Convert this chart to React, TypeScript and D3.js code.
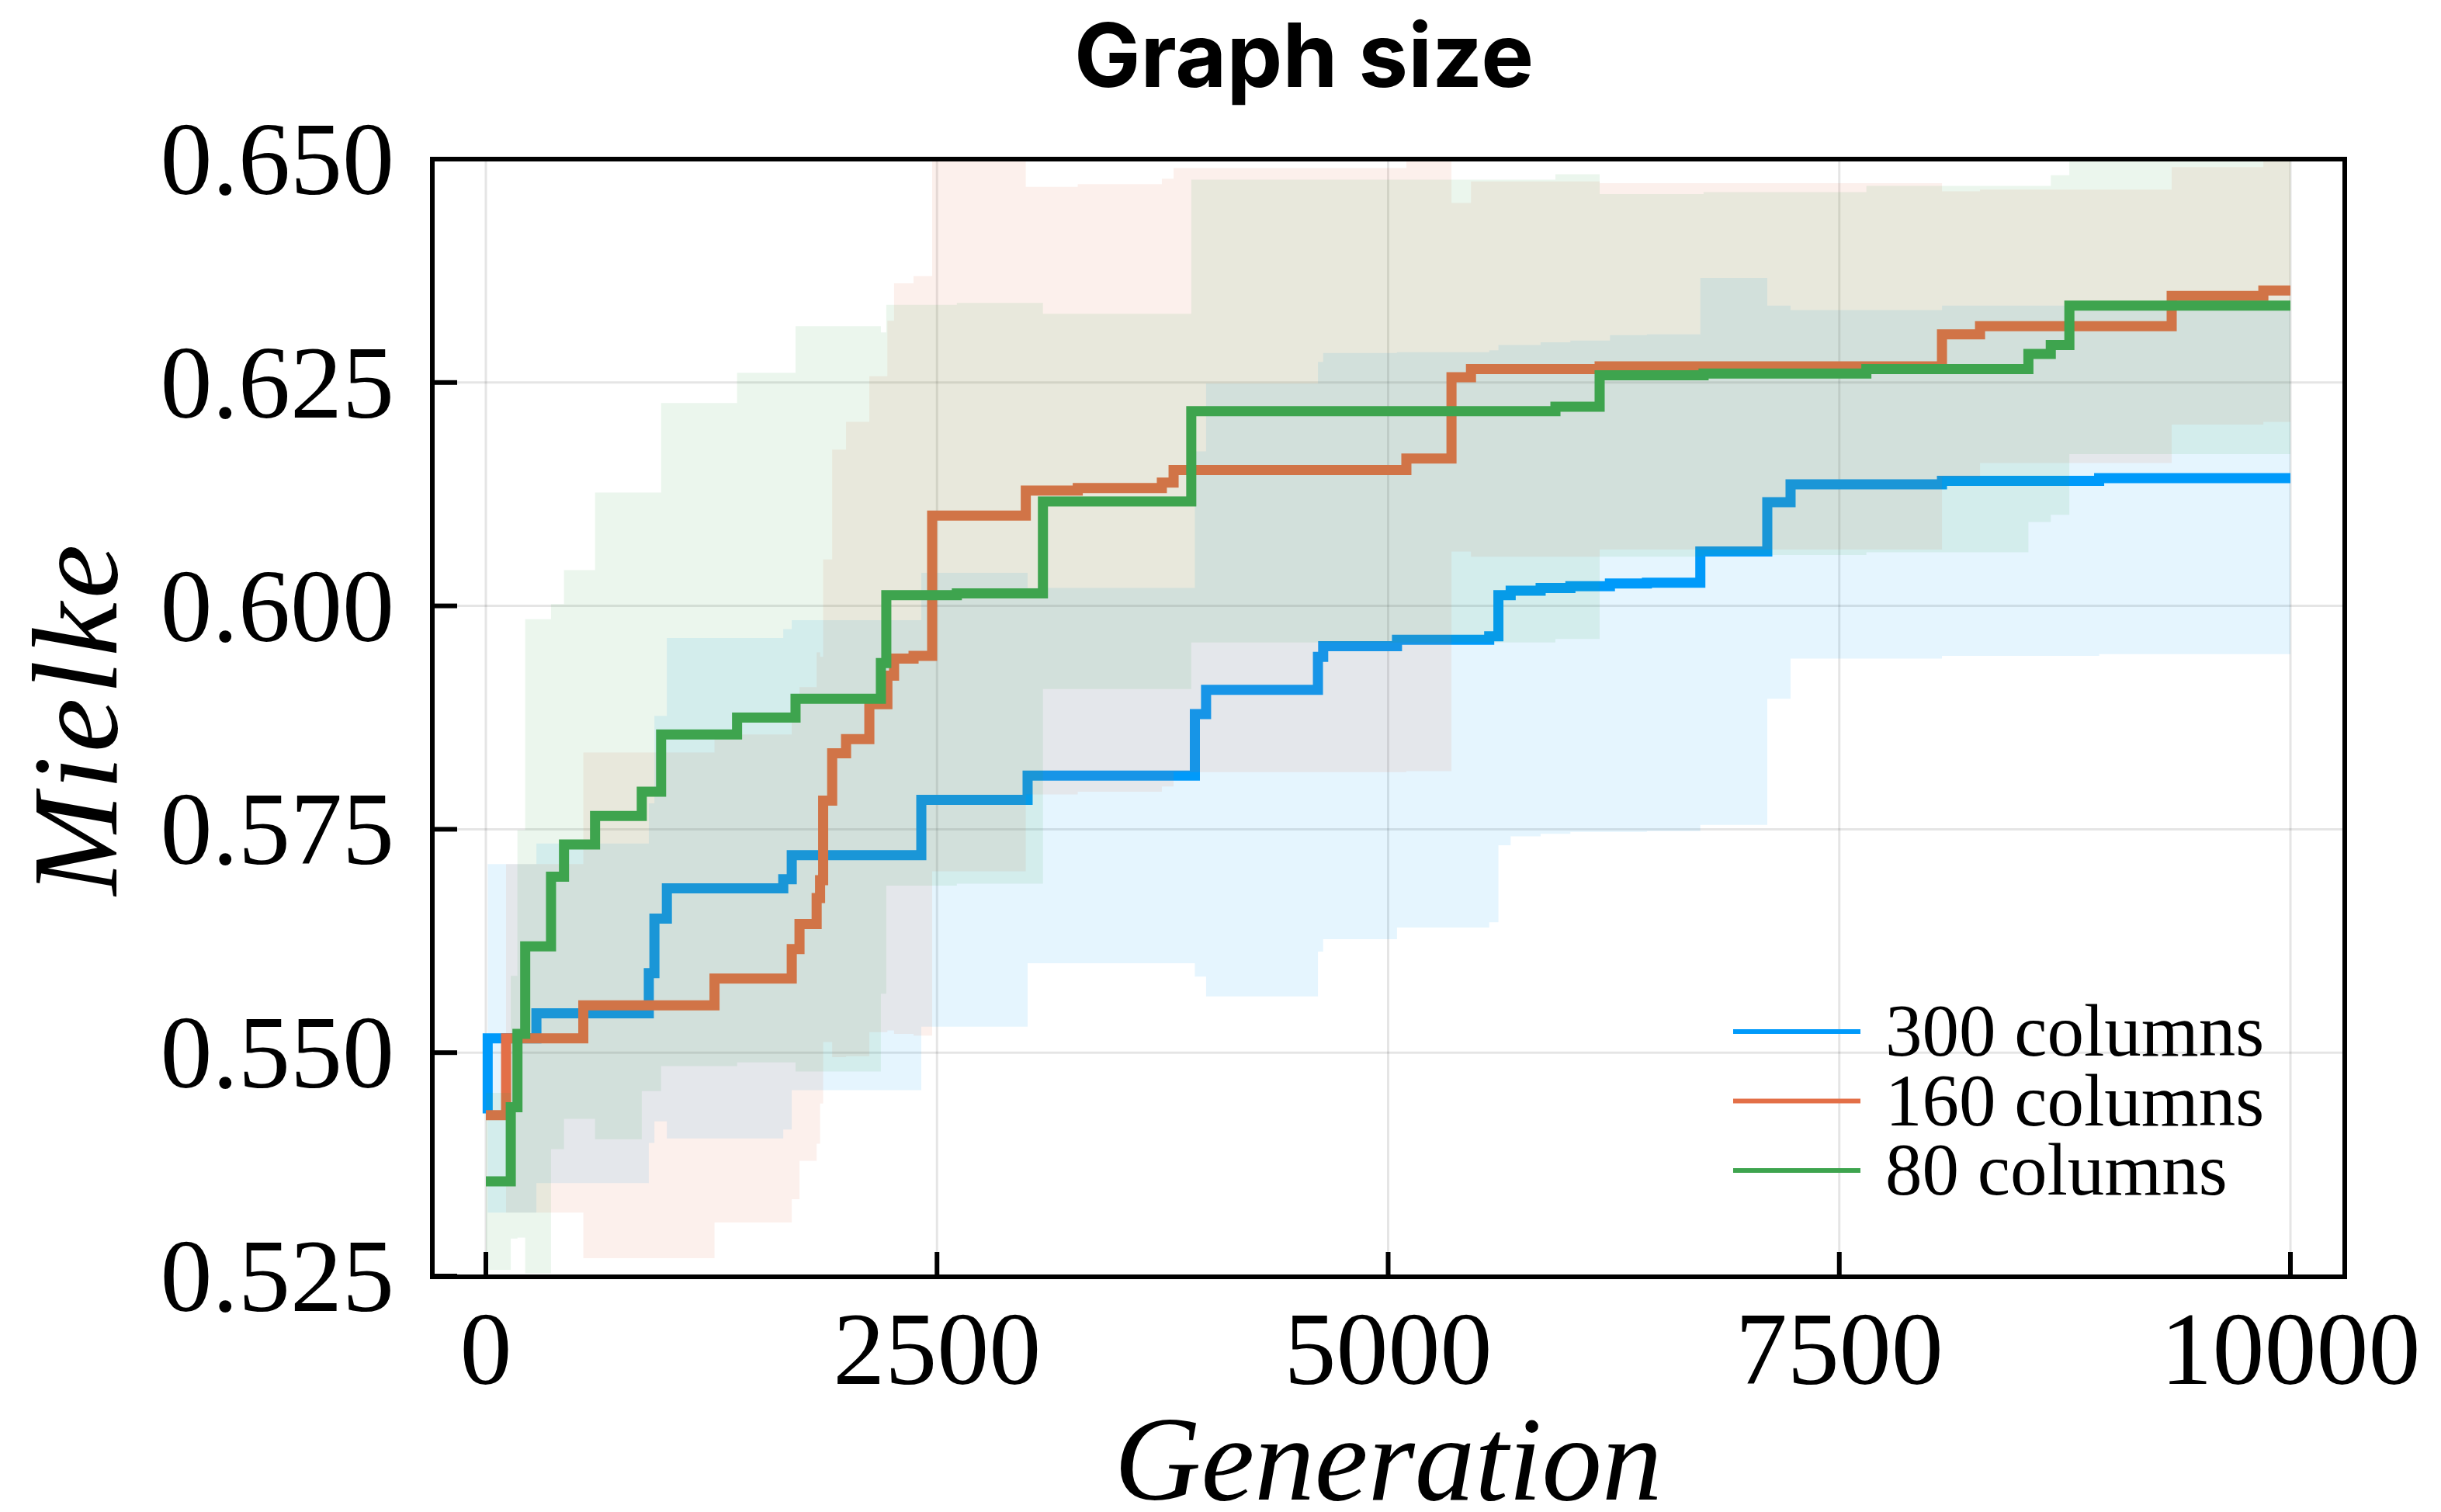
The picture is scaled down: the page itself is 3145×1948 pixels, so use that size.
import React from "react";
import * as d3 from "d3";

const W = 3145;
const H = 1948;

const TITLE = "Graph size";
const X_LABEL = "Generation";
const Y_LABEL = "Mielke";
const X_TICKS = [0, 2500, 5000, 7500, 10000];
const Y_TICKS = [0.525, 0.55, 0.575, 0.6, 0.625, 0.65];

const SERIES_LABELS = ["300 columns", "160 columns", "80 columns"];
const SERIES_COLORS = ["#009AFA", "#E36F47", "#3EA44E"];

// 300 columns
const gen300 = [0, 10, 280, 903, 934, 1003, 1648, 1695, 2413, 3002, 3929, 3991, 4611, 4640, 5049, 5560, 5611, 5679, 5845, 6010, 6229, 6434, 6730, 7101, 7230, 8069, 8940, 10000];
const mean300 = [0.5432, 0.5516, 0.5544, 0.5589, 0.565, 0.5684, 0.5694, 0.5721, 0.5783, 0.581, 0.5879, 0.5906, 0.5943, 0.5955, 0.5962, 0.5966, 0.6012, 0.6017, 0.602, 0.6022, 0.6025, 0.6026, 0.6061, 0.6116, 0.6136, 0.614, 0.6143, 0.6143];
const std300 = [0, 0.0195, 0.019, 0.019, 0.0227, 0.028, 0.028, 0.0263, 0.0254, 0.021, 0.0294, 0.0343, 0.033, 0.0328, 0.0322, 0.032, 0.028, 0.0275, 0.0275, 0.0275, 0.0278, 0.0278, 0.0306, 0.022, 0.0195, 0.0196, 0.0197, 0.0197];

// 160 columns
const gen160 = [0, 112, 540, 1267, 1695, 1738, 1833, 1852, 1869, 1919, 1996, 2125, 2225, 2262, 2370, 2473, 2992, 3280, 3746, 3811, 5101, 5351, 5459, 6172, 8069, 8280, 9342, 9850, 10000];
const mean160 = [0.543, 0.5516, 0.5553, 0.5583, 0.5616, 0.5644, 0.5673, 0.5693, 0.5782, 0.5835, 0.5851, 0.589, 0.5922, 0.5941, 0.5944, 0.6101, 0.6129, 0.6132, 0.6138, 0.6152, 0.6165, 0.6256, 0.6265, 0.6268, 0.6304, 0.6313, 0.6347, 0.6353, 0.6353];
const std160 = [0, 0.0195, 0.0283, 0.0273, 0.028, 0.0265, 0.0275, 0.025, 0.027, 0.034, 0.0355, 0.0367, 0.0397, 0.042, 0.0425, 0.0398, 0.034, 0.034, 0.034, 0.0338, 0.035, 0.0195, 0.021, 0.0205, 0.016, 0.0153, 0.0144, 0.0147, 0.0147];

// 80 columns
const gen80 = [0, 138, 175, 218, 361, 433, 605, 864, 971, 1392, 1716, 2189, 2219, 2610, 3087, 3909, 5927, 6172, 6748, 7650, 8548, 8672, 8775, 10000];
const mean80 = [0.5356, 0.5439, 0.5521, 0.5619, 0.5697, 0.5733, 0.5765, 0.5792, 0.5856, 0.5875, 0.5896, 0.5936, 0.6012, 0.6014, 0.6117, 0.6218, 0.6223, 0.6258, 0.626, 0.6265, 0.6282, 0.6292, 0.6336, 0.6336];
const std80 = [0.0099, 0.0147, 0.0228, 0.0366, 0.0305, 0.0307, 0.0362, 0.0335, 0.0371, 0.0386, 0.0417, 0.037, 0.0325, 0.0325, 0.021, 0.0259, 0.026, 0.0203, 0.0203, 0.0205, 0.0188, 0.019, 0.0166, 0.0166];

const GENS = [gen300, gen160, gen80];
const MEANS = [mean300, mean160, mean80];
const STDS = [std300, std160, std80];

export default function App() {
  const left = 557, right = 3021, top = 205, bottom = 1645;
  const x = d3.scaleLinear().domain([0, 10000]).range([626, 2951]);
  const y = d3.scaleLinear().domain([0.525, 0.65]).range([1644, 205]);

  const series = SERIES_LABELS.map((label, i) => ({
    label,
    color: SERIES_COLORS[i],
    pts: GENS[i].map((g, j) => ({ g, m: MEANS[i][j], s: STDS[i][j] })),
  }));

  const line = d3
    .line<any>()
    .x((d) => x(d.g))
    .y((d) => y(d.m))
    .curve(d3.curveStepAfter);
  const area = d3
    .area<any>()
    .x((d) => x(d.g))
    .y0((d) => y(d.m - d.s))
    .y1((d) => y(d.m + d.s))
    .curve(d3.curveStepAfter);

  const fmt = d3.format(".3f");
  const serif = "'Liberation Serif', 'DejaVu Serif', serif";

  return (
    <svg
      width={W}
      height={H}
      style={{ position: "absolute", left: 0, top: 0, background: "#fff" }}
    >
      <rect x={0} y={0} width={W} height={H} fill="#fff" />
      <defs>
        <clipPath id="plotclip">
          <rect x={left} y={top} width={right - left} height={bottom - top} />
        </clipPath>
      </defs>

      {/* grid */}
      <g stroke="#000" strokeOpacity={0.1} strokeWidth={3}>
        {X_TICKS.map((t) => (
          <line key={"gx" + t} x1={x(t)} x2={x(t)} y1={top} y2={bottom} />
        ))}
        {Y_TICKS.map((t) => (
          <line key={"gy" + t} x1={left} x2={right} y1={y(t)} y2={y(t)} />
        ))}
      </g>

      {/* series */}
      <g clipPath="url(#plotclip)">
        {series.map((s) => (
          <g key={s.label}>
            <path d={area(s.pts) || ""} fill={s.color} fillOpacity={0.1} stroke="none" />
            <path
              d={line(s.pts) || ""}
              fill="none"
              stroke={s.color}
              strokeWidth={13}
              strokeLinejoin="miter"
            />
          </g>
        ))}
      </g>

      {/* frame */}
      <rect
        x={left}
        y={top}
        width={right - left}
        height={bottom - top}
        fill="none"
        stroke="#000"
        strokeWidth={6}
      />

      {/* ticks */}
      <g stroke="#000" strokeWidth={6}>
        {X_TICKS.map((t) => (
          <line key={"tx" + t} x1={x(t)} x2={x(t)} y1={bottom} y2={bottom - 32} />
        ))}
        {Y_TICKS.map((t) => (
          <line key={"ty" + t} x1={left} x2={left + 32} y1={y(t)} y2={y(t)} />
        ))}
      </g>

      {/* tick labels */}
      <g fontFamily={serif} fontSize={134} fill="#000">
        {X_TICKS.map((t) => (
          <text key={"lx" + t} x={x(t)} y={1783} textAnchor="middle">
            {String(t)}
          </text>
        ))}
        {Y_TICKS.map((t) => (
          <text key={"ly" + t} x={508} y={y(t) + 45} textAnchor="end">
            {fmt(t)}
          </text>
        ))}
      </g>

      {/* axis labels */}
      <text
        x={(626 + 2951) / 2}
        y={1932}
        textAnchor="middle"
        fontFamily={serif}
        fontStyle="italic"
        fontSize={155}
      >
        {X_LABEL}
      </text>
      <text
        transform={`translate(150, ${(top + bottom) / 2}) rotate(-90)`}
        textAnchor="middle"
        fontFamily={serif}
        fontStyle="italic"
        fontSize={157}
        letterSpacing={5}
      >
        {Y_LABEL}
      </text>

      {/* title */}
      <text
        x={1680}
        y={112}
        textAnchor="middle"
        fontFamily="Inter, 'Liberation Sans', sans-serif"
        fontWeight={700}
        fontSize={114}
      >
        {TITLE}
      </text>

      {/* legend */}
      <g>
        {series.map((s, i) => (
          <g key={"leg" + s.label}>
            <line
              x1={2233}
              x2={2397}
              y1={1329 + i * 89.5}
              y2={1329 + i * 89.5}
              stroke={s.color}
              strokeWidth={6}
            />
            <text x={2429} y={1360 + i * 89.5} fontFamily={serif} fontSize={95}>
              {s.label}
            </text>
          </g>
        ))}
      </g>
    </svg>
  );
}
